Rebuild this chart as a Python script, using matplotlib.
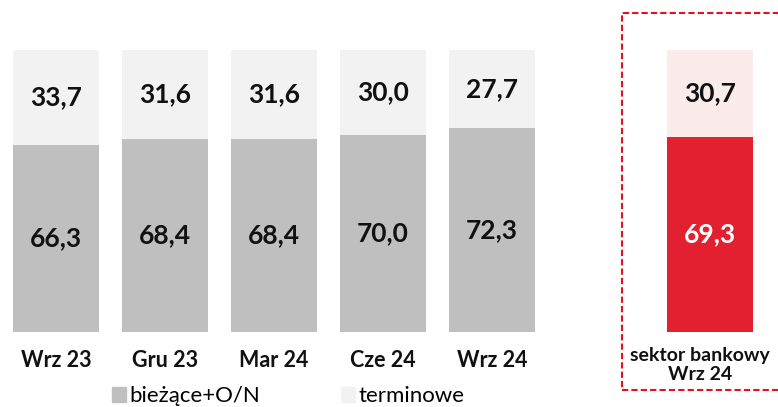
import matplotlib
matplotlib.use('Agg')
import matplotlib.pyplot as plt
from matplotlib.patches import Rectangle, Patch

plt.rcParams['font.family'] = ['Lato', 'DejaVu Sans']

# data
labels = ['Wrz 23', 'Gru 23', 'Mar 24', 'Cze 24', 'Wrz 24']
biezace = [66.3, 68.4, 68.4, 70.0, 72.3]
terminowe = [33.7, 31.6, 31.6, 30.0, 27.7]
sector_label = 'sektor bankowy\nWrz 24'
sector_biezace = 69.3
sector_terminowe = 30.7

grey = '#bfbfbf'
light = '#f2f2f2'
red = '#e3202f'
pink = '#fbebeb'

W, H = 778, 407
fig = plt.figure(figsize=(W / 100, H / 100), dpi=100)
ax = fig.add_axes([0, (H - 332) / H, 1, 282 / H])
ax.set_xlim(-56 / 109, (W - 56) / 109)
ax.set_ylim(0, 100)
ax.axis('off')

x = list(range(len(labels)))
width = 0.79
ax.bar(x, biezace, width, color=grey)
ax.bar(x, terminowe, width, bottom=biezace, color=light)

sx = 6
ax.bar(sx, sector_biezace, width, color=red)
ax.bar(sx, sector_terminowe, width, bottom=sector_biezace, color=pink)


def fmt(v):
    return f'{v:.1f}'.replace('.', ',')


for i in x:
    ax.text(i, biezace[i] / 2, fmt(biezace[i]), ha='center', va='center',
            fontsize=19, fontweight='bold', color='#111111')
    ax.text(i, biezace[i] + terminowe[i] / 2, fmt(terminowe[i]), ha='center', va='center',
            fontsize=19, fontweight='bold', color='#111111')
    ax.text(i, -10, labels[i], ha='center', va='center', fontsize=15.5,
            fontweight='bold', color='#111111')

ax.text(sx, sector_biezace / 2, fmt(sector_biezace), ha='center', va='center',
        fontsize=19, fontweight='bold', color='white')
ax.text(sx, sector_biezace + sector_terminowe / 2, fmt(sector_terminowe), ha='center',
        va='center', fontsize=19, fontweight='bold', color='#111111')
ax.text(sx - 0.09, -11.8, sector_label, ha='center', va='center', fontsize=14,
        fontweight='bold', color='#111111', linespacing=1.15)

# dashed frame around the sector bar
box = Rectangle((622 / W, (H - 390) / H), 0.4, 377 / H, transform=fig.transFigure,
                fill=False, edgecolor='#e8101c', linestyle=(0, (3, 1.5)), linewidth=1.5,
                clip_on=False)
fig.patches.append(box)

handles = [Patch(color=grey), Patch(color=light)]
fig.legend(handles, ['bieżące+O/N', 'terminowe'], loc='center left',
           bbox_to_anchor=(112 / W, (H - 396) / H), ncol=2, frameon=False,
           fontsize=16, handlelength=0.65, handleheight=0.65, handletextpad=0.15,
           columnspacing=3.6, borderaxespad=0, borderpad=0)

fig.savefig('out.png', dpi=100)
